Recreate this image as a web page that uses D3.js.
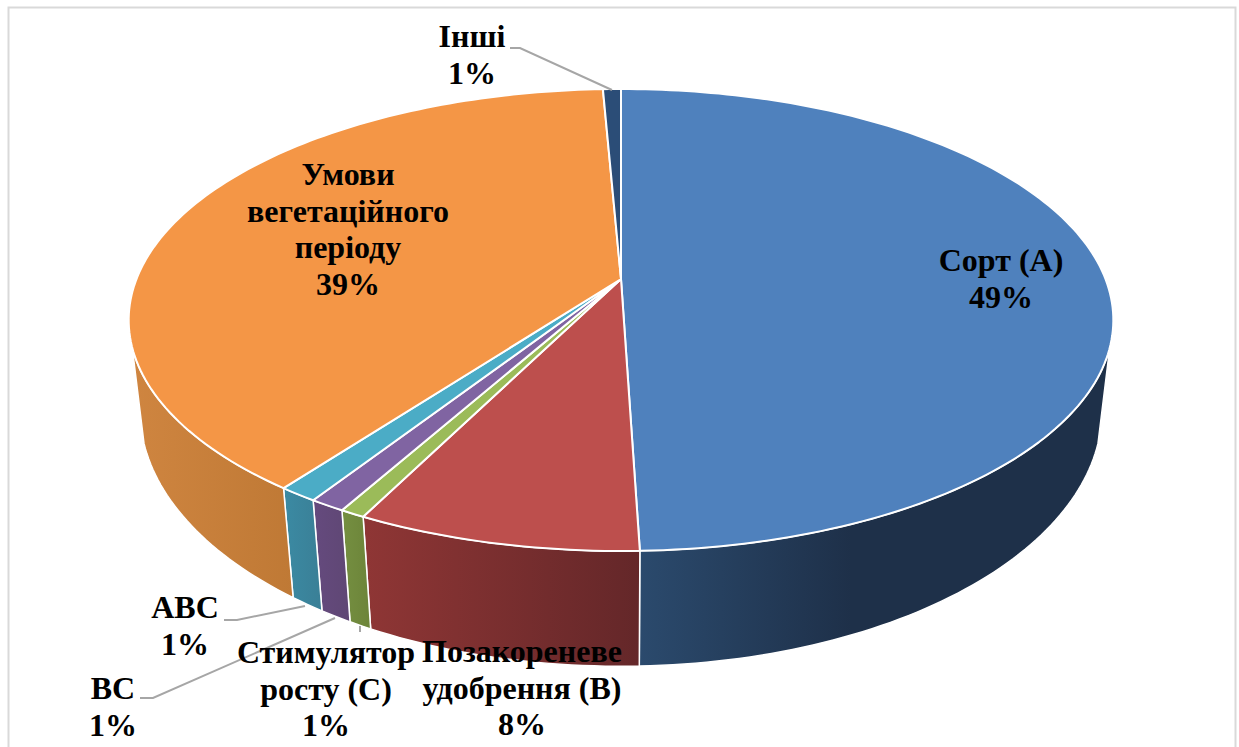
<!DOCTYPE html>
<html>
<head>
<meta charset="utf-8">
<script src="https://cdn.jsdelivr.net/npm/d3@7"></script>
<style>
  html, body { margin: 0; padding: 0; background: #fff; overflow: hidden; }
  text { font-family: "Liberation Serif", serif; font-weight: bold; fill: #000; }
</style>
</head>
<body>
<script>
const categories = ["Сорт (А)", "Позакореневе удобрення (В)", "Стимулятор росту (С)", "ВС", "АВС", "Умови вегетаційного періоду", "Інші"];
const values = [49.49, 7.9, 0.7, 1.0, 1.1, 39.11, 0.7];
const topColors = ["#4f81bd", "#bd4f4d", "#9bbb59", "#8064a2", "#4bacc6", "#f49646", "#2b4d77"];
const wallLeftColors = ["#2b4a6d", "#8f3635", "#758f41", "#654a7e", "#3b8aa3", "#cf8540", "#1d3550"];
const wallRightColors = ["#1e3049", "#642729", "#6c8439", "#5f4774", "#3a7f96", "#bf7935", "#1d3550"];

// label lines for every slice, pct is added from values
const labelLines = [["Сорт (А)"], ["Позакореневе", "удобрення (В)"], ["Стимулятор", "росту (С)"], ["ВС"], ["АВС"], ["Умови", "вегетаційного", "періоду"], ["Інші"]];
const labelAnchor = [[1001, 261], [522, 652], [326, 653], [113, 689], [185, 608], [348, 175], [472, 37]];
const leaderPaths = [null, null, [[360, 632], [360, 626]], [[140, 698], [153, 698], [335, 618]], [[224, 620], [237, 620], [305, 606]], null, [[510, 48], [520, 48], [612, 90]]];

const w = 1239, h = 747;
const lineGap = 36.5;

const svg = d3.select("body").append("svg")
  .attr("width", w)
  .attr("height", h)
  .style("display", "block");

svg.append("rect")
  .attr("x", 8.5).attr("y", 7.5)
  .attr("width", 1227).attr("height", 760)
  .attr("fill", "none")
  .attr("stroke", "#d9d9d9")
  .attr("stroke-width", 2);

// perspective view of the two discs, v is towards the viewer
const topDisc = { cx: 621, r: 484.5, a: 279, b: 174.2, c: -0.1775 };
const bottomDisc = { cx: 621, r: 474, a: 367, b: 186, c: -0.17 };

function project(disc, angle) {
  const u = Math.sin(angle), v = -Math.cos(angle);
  const k = 1 + disc.c * v;
  return [disc.cx + disc.r * u / k, (disc.a + disc.b * v) / k];
}

function sample(a0, a1) {
  const n = Math.max(2, Math.ceil((a1 - a0) / 0.02));
  return d3.range(n + 1).map(i => a0 + (a1 - a0) * i / n);
}

const pie = d3.pie().sort(null).startAngle(0).endAngle(2 * Math.PI);
const arcs = pie(values);
const line = d3.line();

const frontStart = 107 * Math.PI / 180, frontEnd = 253 * Math.PI / 180;

const defs = svg.append("defs");

// side wall, only the part turned to the viewer
const walls = arcs
  .map((d, i) => ({ i, a0: Math.max(d.startAngle, frontStart), a1: Math.min(d.endAngle, frontEnd) }))
  .filter(d => d.a1 > d.a0);

walls.forEach(d => {
  const upper = sample(d.a0, d.a1).map(t => project(topDisc, t));
  const lower = sample(d.a0, d.a1).map(t => project(bottomDisc, t));
  d.points = upper.concat(lower.reverse());
  const xs = d3.extent(d.points, p => p[0]);
  const g = defs.append("linearGradient")
    .attr("id", "wall" + d.i)
    .attr("gradientUnits", "userSpaceOnUse")
    .attr("x1", xs[0]).attr("x2", xs[1]).attr("y1", 0).attr("y2", 0);
  g.append("stop").attr("offset", 0).attr("stop-color", wallLeftColors[d.i]);
  g.append("stop").attr("offset", d.i === 0 ? 0.45 : 1).attr("stop-color", wallRightColors[d.i]);
  g.append("stop").attr("offset", 1).attr("stop-color", wallRightColors[d.i]);
});

svg.append("g").selectAll("path")
  .data(walls)
  .join("path")
  .attr("d", d => line(d.points) + "Z")
  .attr("fill", d => `url(#wall${d.i})`)
  .attr("stroke", "#fff")
  .attr("stroke-width", 1.5)
  .attr("stroke-linejoin", "round");

// top face
svg.append("g").selectAll("path")
  .data(arcs)
  .join("path")
  .attr("d", d => {
    const center = [topDisc.cx, topDisc.a];
    return line([center].concat(sample(d.startAngle, d.endAngle).map(t => project(topDisc, t)))) + "Z";
  })
  .attr("fill", (d, i) => topColors[i])
  .attr("stroke", "#fff")
  .attr("stroke-width", 2)
  .attr("stroke-linejoin", "round");

// leader lines
svg.append("g").selectAll("path")
  .data(leaderPaths.filter(d => d))
  .join("path")
  .attr("d", d => line(d))
  .attr("fill", "none")
  .attr("stroke", "#a6a6a6")
  .attr("stroke-width", 2);

// labels
const pct = d3.format(".0f");
const labels = svg.append("g").selectAll("text")
  .data(categories)
  .join("text")
  .attr("text-anchor", "middle")
  .attr("font-size", 32);

labels.selectAll("tspan")
  .data((d, i) => labelLines[i].concat(pct(values[i]) + "%").map(t => ({ t, i })))
  .join("tspan")
  .attr("x", d => labelAnchor[d.i][0])
  .attr("y", (d, j) => labelAnchor[d.i][1] + 10 + j * lineGap)
  .text(d => d.t);
</script>
</body>
</html>
